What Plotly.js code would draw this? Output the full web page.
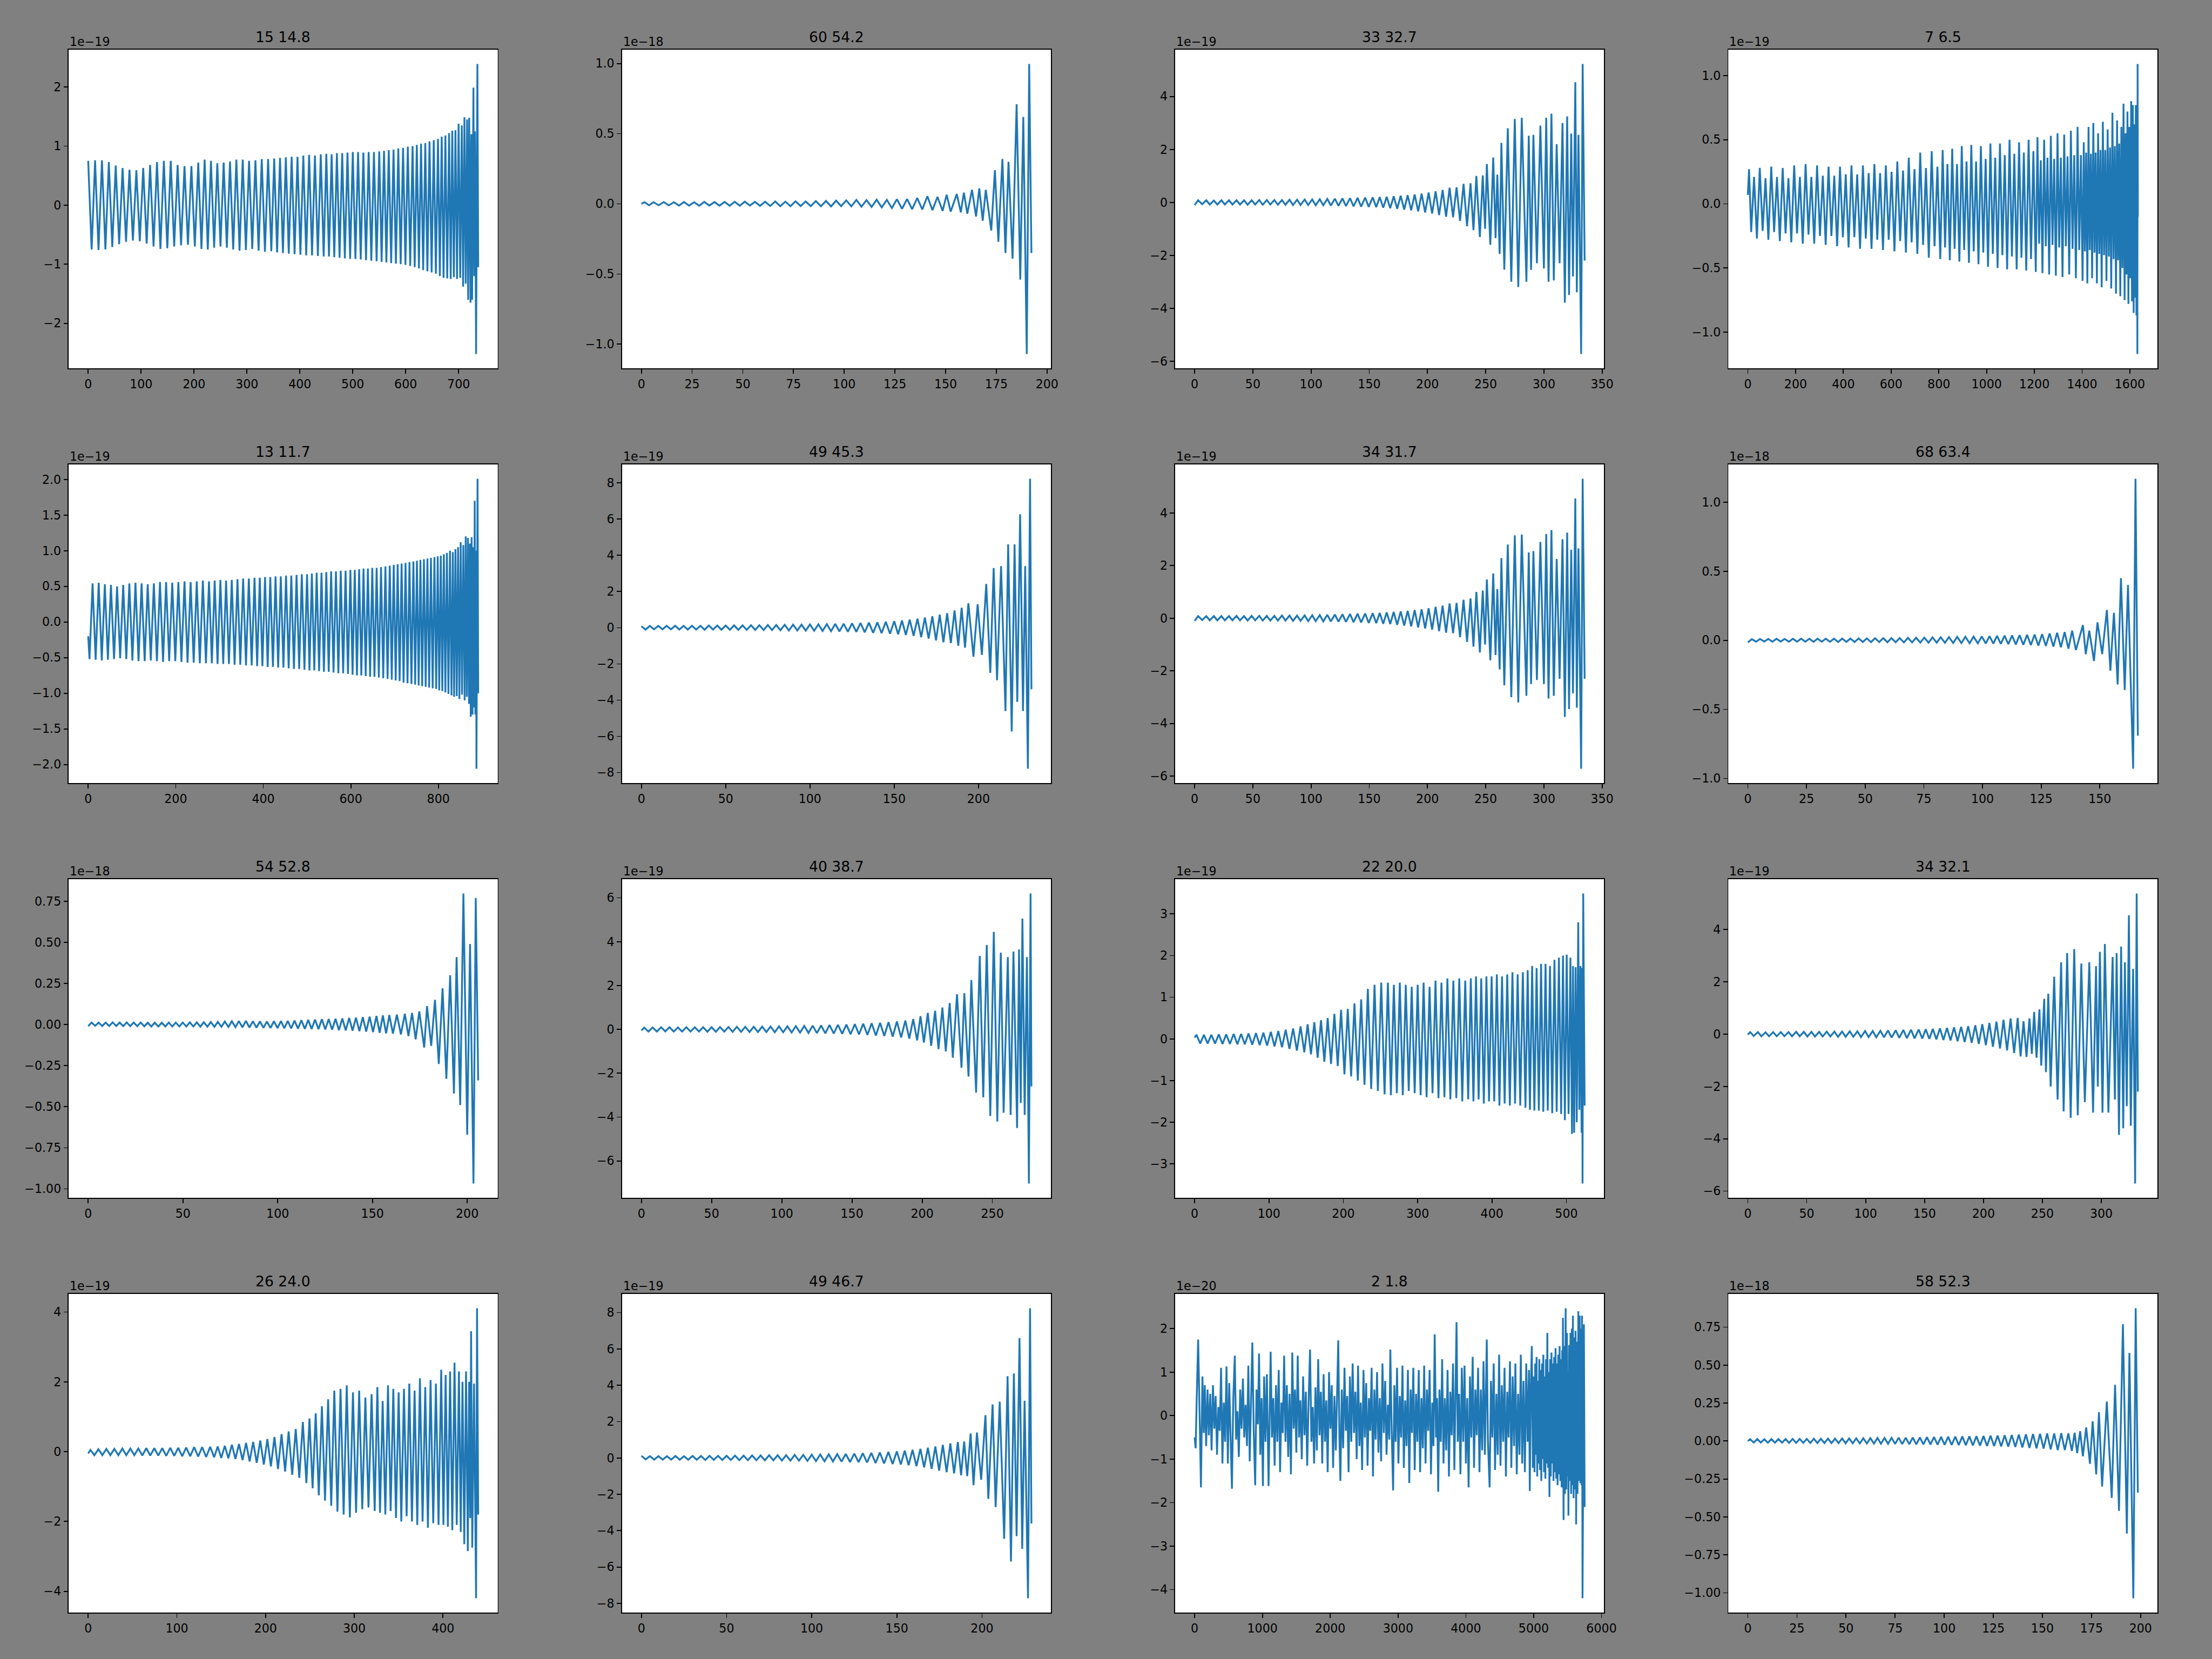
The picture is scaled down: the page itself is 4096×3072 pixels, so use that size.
<!DOCTYPE html>
<html><head><meta charset="utf-8">
<script src="https://cdn.plot.ly/plotly-3.0.1.min.js"></script>
<style>html,body{margin:0;padding:0;background:#808080;}#chart{width:4096px;height:3072px;}</style>
</head><body><div id="chart"></div>
<script>
// ---- chart data ----
const titles = ["15 14.8","60 54.2","33 32.7","7 6.5","13 11.7","49 45.3","34 31.7","68 63.4","54 52.8","40 38.7","22 20.0","34 32.1","26 24.0","49 46.7","2 1.8","58 52.3"];
const exponents = [-19,-18,-19,-19,-19,-19,-19,-18,-18,-19,-19,-19,-19,-19,-20,-18];
const yTickStep = [1,0.5,2,0.5,0.5,2,2,0.5,0.25,2,1,2,2,2,1,0.25];
const yTickFormat = ["d",".1f","d",".1f",".1f","d","d",".1f",".2f","d","d","d","d","d","d",".2f"];
const xTickStep = [100,25,50,200,200,50,50,25,50,50,100,50,100,50,1000,25];

// each series: pairs of (sample index, value in units of 10^exponent), read at the turning points of the trace
const p1 = [0,0.75,6.5,-0.75,13,0.76,19.5,-0.76,26,0.76,32.5,-0.75,39,0.73,45.5,-0.71,52,0.67,58.5,-0.66,65,0.63,71.5,-0.62,78,0.6,84.5,-0.6,91,0.59,97.5,-0.61,104,0.63,110.5,-0.65,117,0.68,123.5,-0.7,130,0.73,136.5,-0.74,143,0.75,149.5,-0.73,156,0.75,162.5,-0.7,169,0.68,175.5,-0.68,182,0.66,188.5,-0.67,195,0.66,201.5,-0.7,208,0.72,214,-0.74,220,0.77,226,-0.75,232,0.75,238,-0.72,244,0.71,250,-0.7,256,0.72,262,-0.72,268,0.74,274,-0.75,280,0.77,286,-0.77,292,0.77,298,-0.76,304,0.75,310,-0.74,316,0.76,322,-0.77,328,0.78,334,-0.79,340,0.78,346,-0.78,351.5,0.79,357,-0.8,362.5,0.8,368,-0.81,373.5,0.81,379,-0.82,384.5,0.82,390,-0.83,395.5,0.82,401,-0.84,406.5,0.84,412,-0.85,417.5,0.85,423,-0.85,428.5,0.84,434,-0.86,439.5,0.86,445,-0.87,450,0.87,455,-0.87,460,0.86,465,-0.88,470,0.88,475,-0.89,480,0.88,485,-0.9,490,0.89,495,-0.91,500,0.9,505,-0.91,510,0.9,515,-0.92,520,0.89,525,-0.93,530,0.9,535,-0.94,540,0.9,545,-0.95,550,0.91,554.5,-0.96,559,0.92,563.5,-0.97,568,0.93,572.5,-0.98,577,0.94,581.5,-0.99,586,0.96,590.5,-1.0,595,0.97,599.5,-1.01,604,0.99,608.5,-1.03,613,1.0,617,-1.05,621,1.02,625,-1.07,629,1.04,633,-1.1,637,1.05,641,-1.12,645,1.08,649,-1.14,653,1.1,657,-1.16,661,1.12,664.5,-1.2,668,1.16,671.5,-1.23,675,1.18,678.5,-1.24,682,1.22,685,-1.25,688,1.26,691,-1.22,694,1.27,697,-1.25,700,1.38,703,-1.23,706,1.35,708.5,-1.38,711,1.49,713.5,-1.33,716,1.45,718,-1.6,720,1.48,722.5,-1.65,724,1.2,725.5,-1.6,728,1.99,729.5,-1.2,731,1.25,733,-2.52,735.5,2.39,737,-1.05];
const p2 = [0,0.0,1.5,0.012,3.8,-0.01,6,0.012,8.5,-0.01,11,0.013,13.5,-0.011,16,0.012,18.5,-0.012,21,0.013,23.5,-0.012,26,0.012,28.5,-0.013,31,0.014,33.5,-0.012,36,0.013,38.5,-0.013,41,0.014,43.5,-0.013,46,0.015,48.5,-0.013,51,0.016,53.5,-0.012,56,0.015,58.5,-0.014,61,0.016,63.5,-0.015,66,0.017,68.5,-0.016,71,0.016,73.5,-0.016,76,0.018,78.5,-0.015,81,0.017,83.5,-0.016,86,0.02,88.5,-0.017,91,0.021,93.5,-0.018,96,0.023,98.5,-0.016,101,0.025,103.5,-0.018,106,0.028,108.5,-0.02,111,0.027,113.5,-0.022,116,0.03,118.5,-0.025,121,0.029,123.5,-0.03,126,0.033,128.5,-0.035,131,0.035,133.5,-0.038,136,0.042,138.5,-0.04,141,0.055,143.5,-0.045,146,0.05,148.5,-0.05,150.5,0.065,152.5,-0.055,155.5,0.07,157.5,-0.06,159,0.08,160.7,-0.07,163,0.1,165,-0.09,166.6,0.11,168.3,-0.12,169.8,0.1,172.5,-0.19,174.3,0.24,176,-0.27,178,0.32,179.5,-0.35,181,0.3,183,-0.39,185,0.71,186.8,-0.54,188.3,0.62,190,-1.07,191.2,0.997,192.3,-0.35];
const p3 = [0,-0.1,3,0.08,6.5,-0.07,10,0.08,13,-0.08,16.5,0.07,19.5,-0.08,23,0.08,26,-0.08,29.5,0.08,32.5,-0.08,36,0.08,39,-0.08,42.5,0.08,45.5,-0.09,49,0.08,52,-0.08,55.5,0.09,58.5,-0.09,62,0.09,65,-0.08,68.5,0.09,71.5,-0.09,75,0.09,78,-0.09,81.5,0.1,84.5,-0.1,88,0.1,91,-0.1,94.5,0.11,97.5,-0.1,101,0.11,104,-0.11,107.5,0.12,110.5,-0.11,114,0.13,117,-0.12,120.5,0.14,123.5,-0.13,127,0.15,130,-0.14,133.5,0.16,136.5,-0.15,140,0.17,143,-0.16,146.5,0.18,149.5,-0.17,153,0.19,156,-0.18,159,0.2,162,-0.2,165,0.21,168,-0.22,171,0.23,174,-0.24,177,0.25,180,-0.27,183,0.27,186,-0.3,189,0.3,192,-0.34,195,0.33,198,-0.38,201,0.37,204,-0.42,207,0.42,210,-0.48,213,0.47,216,-0.54,219,0.55,222,-0.56,225,0.57,228,-0.7,231,0.7,234,-0.9,237,0.72,239.5,-1.05,242,1.0,245,-1.31,247.5,1.02,249.5,-1.0,251,1.45,254,-1.6,256.5,1.7,258.5,-1.35,260,1.05,262,-1.95,263.5,2.25,266,-2.54,269,2.8,272,-3.0,275,3.15,278,-3.2,281,3.2,285,-3.0,287,2.52,289,-2.55,291,2.55,294,-2.3,297,2.9,300,-2.5,302,3.2,304,-3.0,306.5,3.35,308.5,-2.95,311,2.2,313.5,-2.3,316,3.0,318,-3.79,320,3.25,321.6,-3.5,323.5,2.6,325,-2.8,327,4.54,328.3,-3.4,329.7,2.55,332,-5.73,333.3,5.23,335,-2.2];
const p4 = [0,0.07,5,0.27,14,-0.22,26,0.21,38,-0.27,50,0.28,62,-0.21,74,0.2,86,-0.28,98,0.29,110,-0.22,122,0.21,134,-0.29,146,0.28,158,-0.23,170,0.2,182,-0.3,194,0.3,206,-0.23,218,0.21,230,-0.31,242,0.31,254,-0.24,266,0.21,278,-0.31,290,0.3,302,-0.25,314,0.22,326,-0.32,338,0.29,350,-0.25,362,0.22,374,-0.33,386,0.29,398,-0.26,410,0.23,422,-0.34,434,0.3,446,-0.26,458,0.23,470,-0.35,482,0.3,494,-0.27,506,0.24,518,-0.35,530,0.31,542,-0.28,554,0.24,566,-0.36,578,0.3,590,-0.28,602,0.25,614,-0.37,626,0.33,638,-0.29,650,0.26,662,-0.38,674,0.36,686,-0.3,698,0.27,710,-0.39,722,0.4,734,-0.32,746,0.28,758,-0.42,770,0.41,782,-0.33,794,0.29,806,-0.43,816,0.42,826,-0.34,836,0.31,846,-0.44,856,0.43,866,-0.35,876,0.31,886,-0.45,896,0.45,906,-0.36,916,0.33,926,-0.46,936,0.46,946,-0.37,956,0.33,966,-0.47,976,0.45,986,-0.38,996,0.35,1006,-0.49,1016,0.47,1026,-0.39,1036,0.36,1046,-0.5,1056,0.47,1066,-0.4,1076,0.38,1086,-0.51,1096,0.5,1106,-0.41,1116,0.39,1126,-0.51,1136,0.48,1146,-0.42,1156,0.4,1166,-0.52,1176,0.5,1186,-0.43,1196,0.41,1206,-0.53,1213,0.52,1220,-0.31,1227,0.34,1234,-0.54,1241,0.5,1248,-0.33,1255,0.36,1262,-0.55,1269,0.53,1276,-0.32,1283,0.35,1290,-0.56,1297,0.55,1304,-0.34,1311,0.36,1318,-0.57,1325,0.54,1332,-0.33,1339,0.37,1346,-0.55,1353,0.57,1360,-0.35,1367,0.38,1374,-0.58,1381,0.6,1388,-0.36,1395,0.38,1402,-0.6,1407,0.48,1412,-0.37,1417,0.4,1422,-0.62,1427,0.6,1432,-0.36,1437,0.39,1442,-0.58,1447,0.63,1452,-0.38,1457,0.4,1462,-0.62,1467,0.55,1472,-0.39,1477,0.42,1482,-0.65,1487,0.64,1492,-0.4,1497,0.42,1502,-0.6,1507,0.58,1512,-0.41,1517,0.44,1522,-0.66,1527,0.71,1532,-0.43,1537,0.45,1542,-0.7,1546.5,0.65,1551,-0.44,1555.5,0.47,1560,-0.72,1564.5,0.6,1569,-0.5,1573.5,0.78,1578,-0.75,1582,0.55,1586,-0.55,1590,0.72,1594,-0.78,1598,0.6,1602,-0.58,1605.5,0.8,1609,-0.76,1612.5,0.77,1616,-0.85,1619,0.62,1622,-0.73,1625,0.77,1627.5,-0.87,1629.5,0.7,1631.5,-1.17,1632.5,1.09,1633.5,-0.1];
const p5 = [0,-0.2,3,-0.52,10,0.54,17,-0.53,24,0.55,31,-0.54,38,0.53,45,-0.53,52,0.52,59,-0.52,66,0.5,73,-0.51,80,0.52,87,-0.52,94,0.54,101,-0.54,108,0.55,115,-0.55,122,0.54,129,-0.55,136,0.53,143,-0.54,150,0.54,157,-0.55,164,0.56,171,-0.56,178,0.56,185,-0.55,192,0.55,199,-0.55,206,0.56,213,-0.56,220,0.57,227,-0.57,234,0.56,241,-0.57,248,0.57,255,-0.58,262,0.58,269,-0.58,276,0.57,282.5,-0.58,289,0.58,295.5,-0.59,302,0.59,308.5,-0.59,315,0.58,321.5,-0.59,328,0.59,334.5,-0.6,341,0.6,347.5,-0.6,354,0.61,360.5,-0.61,367,0.61,373.5,-0.61,380,0.62,386,-0.62,392,0.62,398,-0.62,404,0.63,410,-0.63,416,0.63,422,-0.63,428,0.64,434,-0.64,440,0.64,446,-0.64,452,0.65,458,-0.65,464,0.65,470,-0.66,476,0.66,482,-0.66,488,0.67,494,-0.67,500,0.67,505.5,-0.68,511,0.68,516.5,-0.68,522,0.69,527.5,-0.69,533,0.69,538.5,-0.7,544,0.7,549.5,-0.7,555,0.71,560.5,-0.71,566,0.71,571.5,-0.72,577,0.72,582.5,-0.72,588,0.72,593.5,-0.73,599,0.73,604,-0.74,609,0.73,614,-0.75,619,0.74,624,-0.75,629,0.75,634,-0.76,639,0.75,644,-0.77,649,0.76,654,-0.77,659,0.76,664,-0.78,669,0.77,674,-0.79,679,0.78,684,-0.8,689,0.79,693.5,-0.81,698,0.8,702.5,-0.82,707,0.81,711.5,-0.83,716,0.82,720.5,-0.85,725,0.83,729.5,-0.86,734,0.84,738.5,-0.87,743,0.85,747,-0.88,751,0.86,755,-0.89,759,0.87,763,-0.9,767,0.88,771,-0.91,775,0.89,779,-0.92,783,0.9,787,-0.93,791,0.91,795,-0.94,798.5,0.92,802,-0.96,805.5,0.93,809,-0.97,812.5,0.95,816,-0.99,819.5,0.97,823,-1.01,826.5,1.0,830,-1.03,833,0.98,836,-1.05,839,1.02,842,-1.04,845,1.05,848,-1.08,851,1.12,854,-1.02,857,1.08,860,-1.1,862.5,1.2,865,-1.05,867.5,1.18,870,-1.15,872,1.1,874,-1.33,876,1.19,878,-1.3,880,1.05,881.5,-1.2,883,1.7,884.5,-1.3,886,1.0,887,-2.06,889.5,2.01,891,-1.0];
const p6 = [0,0.08,2.5,-0.1,5,0.1,7.5,-0.09,10,0.1,12.5,-0.09,15,0.1,17.5,-0.09,20,0.11,22.5,-0.1,25,0.1,27.5,-0.1,30,0.11,32.5,-0.1,35,0.11,37.5,-0.11,40,0.12,42.5,-0.1,45,0.12,47.5,-0.11,50,0.12,52.5,-0.11,55,0.13,57.5,-0.12,60,0.13,62.5,-0.12,65,0.14,67.5,-0.12,70,0.14,72.5,-0.13,75,0.15,77.5,-0.13,80,0.15,82.5,-0.14,85,0.16,87.5,-0.15,90,0.17,92.5,-0.15,95,0.17,97.5,-0.16,100,0.18,102.5,-0.17,105,0.19,107.5,-0.18,110,0.2,112.5,-0.19,115,0.21,117.5,-0.2,120,0.22,122.5,-0.22,125,0.24,127.5,-0.23,130,0.26,132.5,-0.25,135,0.28,137.5,-0.28,140,0.3,142.5,-0.3,145,0.33,147.5,-0.33,150,0.36,152.3,-0.36,154.6,0.4,156.9,-0.4,159.2,0.45,161.5,-0.45,163.8,0.5,166,-0.52,168.2,0.56,170.4,-0.6,172.6,0.63,174.8,-0.7,177,0.72,179.2,-0.8,181.4,0.8,183.6,-0.85,185.8,0.95,188,-1.0,190,1.1,192,-1.1,194,1.35,197,-1.6,199.5,1.3,202,-1.5,204.6,2.42,207,-2.49,209,3.3,211,-2.9,213.4,3.4,216,-4.6,217.6,4.6,219.7,-5.73,221.4,4.6,223,-4.1,224.7,6.27,226.4,-4.6,227.7,3.4,229.3,-7.79,230.6,8.23,231.4,-3.4];
const p7 = [0,-0.1,3,0.08,6.5,-0.07,10,0.08,13,-0.08,16.5,0.08,19.5,-0.08,23,0.08,26,-0.08,29.5,0.08,32.5,-0.08,36,0.09,39,-0.08,42.5,0.08,45.5,-0.09,49,0.09,52,-0.08,55.5,0.09,58.5,-0.09,62,0.09,65,-0.09,68.5,0.09,71.5,-0.09,75,0.1,78,-0.09,81.5,0.1,84.5,-0.1,88,0.1,91,-0.1,94.5,0.11,97.5,-0.11,101,0.11,104,-0.11,107.5,0.12,110.5,-0.12,114,0.13,117,-0.12,120.5,0.14,123.5,-0.13,127,0.15,130,-0.14,133.5,0.16,136.5,-0.15,140,0.17,143,-0.16,146.5,0.18,149.5,-0.18,153,0.19,156,-0.19,159,0.2,162,-0.21,165,0.22,168,-0.22,171,0.24,174,-0.25,177,0.26,180,-0.28,183,0.28,186,-0.31,189,0.31,192,-0.35,195,0.34,198,-0.39,201,0.38,204,-0.43,207,0.43,210,-0.49,213,0.48,216,-0.55,219,0.56,222,-0.57,225,0.58,228,-0.72,231,0.7,234,-0.9,237,0.75,239.5,-1.08,242,1.0,245,-1.3,247.5,1.05,249.5,-1.0,251,1.47,254,-1.6,256.5,1.7,258.5,-1.4,260,1.1,262,-1.95,263.5,2.28,266,-2.55,269,2.8,272,-3.0,275,3.15,278,-3.2,281,3.18,285,-2.95,287,2.5,289,-2.5,291,2.55,294,-2.35,297,2.9,300,-2.5,302,3.2,304,-3.05,306.5,3.35,308.5,-2.95,311,2.25,313.5,-2.3,316,3.0,318,-3.75,320,3.25,321.6,-3.45,323.5,2.6,325,-2.85,327,4.55,328.3,-3.4,329.7,2.65,332,-5.72,333.3,5.3,335,-2.3];
const p8 = [0,-0.015,1.7,0.008,3.5,-0.01,5.2,0.01,7,-0.009,8.7,0.01,10.5,-0.01,12.2,0.011,14,-0.009,15.7,0.01,17.5,-0.01,19.2,0.011,21,-0.01,22.7,0.012,24.5,-0.01,26.2,0.011,28,-0.011,29.7,0.012,31.5,-0.01,33.2,0.012,35,-0.011,36.7,0.012,38.5,-0.012,40.2,0.013,42,-0.011,43.7,0.013,45.5,-0.012,47.2,0.014,49,-0.012,50.7,0.014,52.5,-0.013,54.2,0.015,56,-0.013,57.7,0.016,59.5,-0.014,61.2,0.016,63,-0.014,64.7,0.017,66.5,-0.015,68.2,0.018,70,-0.015,71.7,0.019,73.5,-0.016,75.2,0.02,77,-0.017,78.7,0.021,80.5,-0.017,82.2,0.022,84,-0.018,85.7,0.023,87.5,-0.019,89.2,0.025,91,-0.02,92.7,0.026,94.5,-0.021,96.2,0.027,98,-0.022,99.7,0.028,101.4,-0.023,103,0.03,104.6,-0.024,106.2,0.032,107.8,-0.026,109.4,0.034,111,-0.028,112.6,0.035,114.2,-0.03,115.8,0.037,117.4,-0.032,119,0.04,120.6,-0.034,122.2,0.042,123.8,-0.038,125.4,0.045,127,-0.04,128.6,0.05,130.2,-0.045,131.8,0.055,133.4,-0.05,135,0.06,136.6,-0.06,138.2,0.07,139.8,-0.07,142.8,0.11,144,-0.1,145.5,0.07,147.5,-0.15,149,0.13,151,-0.1,153,0.22,154.5,-0.22,156,0.2,157.6,-0.32,159,0.45,160.6,-0.36,162,0.4,164.2,-0.93,165.2,1.17,166.2,-0.69];
const p9 = [0,-0.01,1.8,0.012,3.7,-0.008,5.5,0.012,7.4,-0.009,9.2,0.012,11.1,-0.009,12.9,0.013,14.8,-0.009,16.6,0.012,18.5,-0.01,20.3,0.013,22.2,-0.01,24,0.012,25.9,-0.01,27.7,0.012,29.6,-0.011,31.4,0.011,33.3,-0.012,35.1,0.011,37,-0.012,38.8,0.011,40.7,-0.012,42.5,0.012,44.4,-0.012,46.2,0.012,48.1,-0.012,49.9,0.012,51.8,-0.012,53.6,0.013,55.5,-0.012,57.3,0.013,59.2,-0.013,61,0.014,62.9,-0.013,64.7,0.015,66.6,-0.014,68.4,0.016,70.3,-0.014,72.1,0.018,74,-0.015,75.8,0.02,77.7,-0.016,79.5,0.021,81.4,-0.017,83.2,0.022,85.1,-0.018,86.9,0.02,88.8,-0.019,90.6,0.019,92.5,-0.02,94.3,0.018,96.2,-0.021,98,0.02,99.9,-0.022,101.7,0.021,103.5,-0.023,105.3,0.022,107.1,-0.024,108.9,0.024,110.7,-0.025,112.5,0.026,114.3,-0.026,116.1,0.028,117.9,-0.027,119.7,0.03,121.5,-0.028,123.3,0.032,125.1,-0.03,126.9,0.033,128.7,-0.032,130.5,0.035,132.3,-0.034,134.1,0.037,135.9,-0.036,137.7,0.04,139.5,-0.038,141.3,0.042,143.1,-0.04,144.9,0.045,146.7,-0.043,148.5,0.048,150.3,-0.046,152.1,0.052,153.8,-0.05,155.5,0.055,157.2,-0.054,158.9,0.058,160.8,-0.055,162.9,0.06,165,-0.06,167.1,0.065,169,-0.07,170.9,0.07,172.8,-0.09,174.7,0.08,177.3,-0.14,178.8,0.112,181,-0.13,183,0.15,185,-0.24,187,0.22,189,-0.33,191,0.3,193,-0.42,194.4,0.41,196.3,-0.49,198,0.797,200,-0.67,201.5,0.49,203.3,-0.967,204.5,0.77,205.8,-0.34];
const p10 = [0,-0.05,2,0.08,5,-0.1,8,0.09,11,-0.1,14,0.1,17,-0.09,20,0.1,23,-0.1,26,0.09,29,-0.1,32,0.1,35,-0.1,38,0.1,41,-0.1,44,0.1,47,-0.11,50,0.1,53,-0.11,56,0.11,59,-0.1,62,0.11,65,-0.11,68,0.12,71,-0.11,74,0.12,77,-0.12,80,0.12,83,-0.12,86,0.13,89,-0.12,92,0.13,95,-0.13,98,0.14,101,-0.13,104,0.14,107,-0.14,110,0.15,113,-0.15,116,0.16,119,-0.16,122,0.17,125,-0.17,128,0.18,131,-0.18,134,0.2,137,-0.19,140,0.21,143,-0.2,146,0.22,149,-0.22,152,0.24,155,-0.23,158,0.26,161,-0.25,164,0.28,167,-0.28,170,0.3,173,-0.3,176,0.33,179,-0.33,182,0.36,185,-0.37,188,0.4,190.8,-0.42,193.6,0.47,196.4,-0.5,198.8,0.6,201.2,-0.6,204,0.75,206.4,-0.75,209.2,0.85,211.6,-0.9,214.4,1.0,216.8,-1.0,219.6,1.2,221.8,-1.29,224.8,1.6,228,-1.75,230,1.65,233,-2.15,235,2.25,238.4,-2.88,241,3.35,243.5,-3.1,246,3.85,248.5,-3.95,251,4.45,253.5,-4.2,256,3.5,258,-3.8,261,3.3,263,-3.9,265,3.55,267.6,-4.5,269,3.65,270.2,-3.35,271.4,5.05,273,-3.9,274.6,3.3,276,-7.03,277.2,6.2,277.8,-2.6];
const p11 = [0,0.03,2.5,0.1,7.5,-0.11,12.5,0.1,17.5,-0.11,22.5,0.1,27.5,-0.11,32.5,0.11,37.5,-0.12,42.5,0.11,47.5,-0.12,52.5,0.12,57.5,-0.13,62.5,0.12,67.5,-0.13,72.5,0.13,77.5,-0.14,82.5,0.14,87.5,-0.15,92.5,0.15,97.5,-0.16,102.5,0.17,107.5,-0.18,112.5,0.19,117.5,-0.2,122.5,0.22,127.5,-0.24,132.5,0.25,137.5,-0.28,142.5,0.3,147.5,-0.32,152,0.35,156.5,-0.37,161,0.4,165.5,-0.45,170,0.45,174.5,-0.55,179,0.5,183.5,-0.6,188,0.6,192.5,-0.65,197,0.7,201.5,-0.85,206,0.72,210.5,-0.9,215,0.85,219.5,-1.0,224,0.95,228.5,-1.1,233,1.2,237.5,-1.2,242,1.3,246.5,-1.25,251,1.35,255.5,-1.33,260,1.35,264,-1.35,268,1.3,272,-1.3,276,1.35,280,-1.35,284,1.3,288,-1.25,292,1.25,296,-1.3,300,1.3,304,-1.35,308,1.35,312,-1.4,316,1.25,320,-1.3,324,1.4,328,-1.42,332,1.35,336,-1.4,340,1.45,344,-1.45,348,1.4,352,-1.42,356,1.45,360,-1.5,364,1.4,368,-1.45,371.5,1.45,375,-1.5,378.5,1.5,382,-1.45,385.5,1.45,389,-1.55,392.5,1.5,396,-1.5,399.5,1.5,403,-1.5,406.5,1.55,410,-1.6,413.5,1.5,417,-1.55,420.5,1.55,424,-1.6,427.5,1.6,431,-1.55,434.5,1.55,438,-1.6,441.5,1.6,445,-1.65,448,1.65,451,-1.7,454,1.75,457,-1.72,460,1.7,463,-1.72,466,1.8,469,-1.75,472,1.8,475,-1.72,478,1.75,481,-1.78,484,1.9,487,-1.75,490,1.95,493,-1.8,495.5,2.0,498,-1.95,500.5,2.02,503,-1.8,505.5,1.95,507.6,-2.28,509,1.75,510.5,-2.25,512.5,1.72,514,-2.0,516,2.8,517.5,-1.7,519,1.75,520.5,-2.25,521.2,1.7,521.8,-3.47,522.7,3.49,524.6,-1.6];
const p12 = [0,-0.02,2,0.08,5,-0.07,8.5,0.08,11.5,-0.08,15,0.07,18,-0.08,21.5,0.08,24.5,-0.08,28,0.08,31,-0.08,34.5,0.08,37.5,-0.08,41,0.09,44,-0.08,47.5,0.09,50.5,-0.09,54,0.09,57,-0.09,60.5,0.09,63.5,-0.09,67,0.1,70,-0.09,73.5,0.1,76.5,-0.1,80,0.1,83,-0.1,86.5,0.11,89.5,-0.1,93,0.11,96,-0.11,99.5,0.12,102.5,-0.11,106,0.12,109,-0.12,112.5,0.13,115.5,-0.12,119,0.14,122,-0.13,125.5,0.15,128.5,-0.14,132,0.16,135,-0.15,138.5,0.17,141.5,-0.16,145,0.18,148,-0.17,151,0.19,154,-0.18,157,0.2,160,-0.2,163,0.22,166,-0.22,169,0.24,172,-0.24,175,0.26,178,-0.27,181,0.28,184,-0.3,187,0.31,190,-0.33,193,0.34,196,-0.37,199,0.38,202,-0.42,205,0.43,208,-0.48,211,0.48,214,-0.55,217,0.55,220,-0.62,223,0.6,226,-0.72,229,0.62,231.5,-0.85,234,0.5,236.5,-0.87,239,0.6,241,-0.75,243,0.85,245,-0.9,247.5,0.95,249,-1.2,251.5,1.35,253,-1.45,255,1.55,257,-2.0,260,2.2,262.9,-2.5,265.9,2.75,268,-2.95,271,3.1,274,-3.2,277,3.25,280,-3.1,283,2.7,286,-2.6,289.8,2.75,293,-3.0,295.5,2.6,297,-2.0,298.8,3.15,301,-3.0,303,3.45,306,-3.0,309.6,2.95,311.5,-2.5,313,3.1,315,-3.85,316.8,3.35,318.6,-3.6,320,2.75,321.6,-2.75,323.4,4.55,325,-3.5,327,2.5,328.7,-5.71,330,5.38,331,-2.2];
const p13 = [0,-0.05,2.5,0.05,7,-0.1,11.5,0.07,16,-0.1,20.5,0.08,25,-0.1,29.5,0.08,34,-0.1,38.5,0.09,43,-0.1,47.5,0.09,52,-0.1,56.5,0.09,61,-0.11,65.5,0.1,70,-0.11,74.5,0.1,79,-0.11,83.5,0.1,88,-0.12,92.5,0.11,97,-0.12,101.5,0.11,106,-0.13,110.5,0.12,115,-0.13,119.5,0.13,124,-0.14,128.5,0.13,133,-0.15,137.5,0.14,142,-0.16,146,0.15,150,-0.18,154,0.17,158,-0.19,162,0.2,166,-0.21,170,0.22,174,-0.24,178,0.25,182,-0.28,186,0.28,190,-0.32,194,0.32,198,-0.37,202,0.36,206,-0.42,210,0.42,214,-0.5,218,0.5,222,-0.57,226,0.58,230,-0.66,234,0.65,238,-0.75,242,0.85,246,-0.9,249.5,0.95,253,-1.05,256.5,1.1,260,-1.25,263.5,1.3,267,-1.4,270.5,1.5,274,-1.55,277.5,1.75,281,-1.72,284.5,1.8,288,-1.8,291.5,1.9,295,-1.88,298.5,1.7,302,-1.75,305.5,1.75,309,-1.65,312.5,1.55,316,-1.6,319.5,1.65,323,-1.7,326,1.85,329,-1.75,332,1.45,335,-1.8,338,1.9,341,-1.7,344,1.8,347,-1.9,350,1.7,353,-2.0,356,1.8,359,-1.85,362,1.95,365,-2.0,368,1.75,371,-2.1,374,2.1,377,-2.0,380,1.85,383,-2.18,386,2.05,389,-2.05,392,1.95,395,-2.1,398,2.35,400.5,-2.1,403,2.2,405.5,-2.15,408,2.3,410.5,-2.25,413,2.55,415.5,-2.1,418,2.3,420,-2.3,422,2.0,424,-2.65,426,2.3,428,-2.85,429.5,2.0,430.7,-1.9,431.7,3.45,433,-2.75,435,1.95,437.3,-4.2,438.4,4.11,439.7,-1.8];
const p14 = [0,0.12,2.5,-0.08,5,0.1,7.5,-0.09,10,0.1,12.5,-0.09,15,0.1,17.5,-0.09,20,0.11,22.5,-0.1,25,0.1,27.5,-0.1,30,0.11,32.5,-0.1,35,0.11,37.5,-0.11,40,0.12,42.5,-0.1,45,0.12,47.5,-0.11,50,0.12,52.5,-0.11,55,0.13,57.5,-0.12,60,0.13,62.5,-0.12,65,0.14,67.5,-0.12,70,0.14,72.5,-0.13,75,0.15,77.5,-0.13,80,0.15,82.5,-0.14,85,0.16,87.5,-0.15,90,0.17,92.5,-0.15,95,0.17,97.5,-0.16,100,0.18,102.5,-0.17,105,0.19,107.5,-0.18,110,0.2,112.5,-0.19,115,0.21,117.5,-0.2,120,0.22,122.5,-0.22,125,0.24,127.5,-0.23,130,0.26,132.5,-0.25,135,0.28,137.5,-0.28,140,0.3,142.5,-0.3,145,0.33,147.5,-0.33,150,0.36,152.3,-0.36,154.6,0.4,156.9,-0.4,159.2,0.45,161.5,-0.45,163.8,0.5,166,-0.52,168.2,0.56,170.4,-0.6,172.6,0.63,174.8,-0.7,177,0.72,179.2,-0.78,181.4,0.8,183.6,-0.85,185.8,0.88,187.7,-0.95,189.5,0.9,191.3,-1.0,193.3,1.35,195,-1.5,197,1.4,199.5,-1.2,202,2.35,203.7,-2.25,206.2,2.95,208,-2.7,210.4,3.1,213,-4.45,215,4.5,217,-5.7,218.7,4.65,220.3,-4.3,222,6.6,223.6,-5.0,225,3.15,227,-7.72,228.2,8.24,229,-3.6];
const p15 = [0,-0.5,15,-0.75,30,0.35,52,1.75,75,-0.1,93,-1.65,115,0.9,135,-0.4,150,0.7,170,-0.7,190,0.6,210,-0.45,230,0.5,250,-0.8,270,0.7,290,-0.3,310,0.45,330,-0.9,350,0.2,370,-0.35,390,1.1,410,-1.1,430,0.3,450,-0.6,470,1.13,490,-1.1,510,0.75,530,-0.5,550,-1.68,570,0.4,592,1.38,612,-0.55,632,0.1,652,-0.95,672,0.6,692,-0.3,712,0.85,732,-0.5,752,0.25,772,-0.7,792,1.15,812,-1.05,832,0.2,851,1.68,872,-0.4,893,-1.6,912,0.6,932,-0.2,950,1.43,968,-0.9,988,0.4,1007,-1.62,1025,0.9,1045,-0.6,1065,0.95,1090,-1.62,1121,1.47,1140,-0.5,1160,0.4,1180,-1.15,1200,0.7,1220,-0.6,1240,1.05,1260,-1.3,1280,0.3,1300,-0.4,1320,1.38,1340,-0.6,1360,0.7,1380,-0.95,1400,0.5,1420,-1.35,1440,1.45,1460,-0.3,1480,0.6,1500,-0.85,1520,1.38,1540,-0.5,1560,0.35,1580,-1.0,1600,0.9,1620,-0.45,1640,0.55,1660,-1.15,1680,0.3,1702,1.52,1722,-0.6,1742,0.2,1762,-1.1,1782,0.65,1802,-0.8,1822,1.3,1842,-0.45,1862,0.55,1882,-1.1,1902,0.95,1922,-0.6,1942,0.35,1962,-1.3,1982,1.0,2002,-0.3,2022,0.7,2042,-1.2,2062,0.45,2082,-0.8,2100,0.3,2118,1.73,2135,-0.5,2149,-1.5,2170,0.6,2190,-0.75,2210,1.1,2230,-0.35,2250,0.45,2270,-1.3,2290,0.9,2310,-0.6,2330,1.2,2350,-0.4,2370,0.55,2390,-1.0,2410,1.15,2430,-0.7,2450,0.3,2470,-1.25,2490,1.05,2510,-0.5,2530,0.75,2550,-1.15,2570,0.4,2590,-0.35,2610,1.1,2630,-1.4,2650,0.6,2670,-0.55,2690,1.0,2710,-0.85,2730,0.4,2750,-1.05,2770,1.2,2790,-0.4,2810,0.8,2830,-0.9,2850,0.25,2870,-0.55,2886,1.52,2905,-0.3,2927,-1.72,2945,0.7,2965,-0.6,2985,1.1,3005,-1.1,3025,0.45,3045,-0.5,3065,1.15,3085,-1.2,3105,0.35,3125,-0.7,3145,1.05,3165,-1.55,3185,0.6,3205,-0.4,3225,1.1,3245,-1.25,3265,0.5,3285,-0.6,3305,1.05,3325,-1.3,3345,0.4,3365,-0.75,3385,1.15,3405,-1.1,3425,0.6,3445,-0.35,3465,1.05,3485,-1.35,3505,0.3,3522,-0.7,3540,1.87,3560,-0.5,3575,0.4,3592,-1.75,3610,0.6,3630,-0.6,3650,1.3,3670,-1.1,3690,0.4,3710,-0.8,3730,1.05,3750,-1.4,3770,0.55,3790,-0.45,3810,1.2,3830,-1.25,3847,0.3,3862,2.15,3880,-0.6,3900,0.5,3920,-1.35,3940,1.1,3960,-0.6,3980,1.15,4000,-1.1,4020,0.4,4040,-1.65,4060,0.9,4080,-0.5,4100,1.35,4120,-1.2,4140,0.6,4160,-0.45,4180,1.1,4200,-1.3,4220,0.6,4240,-0.8,4260,1.25,4280,-0.9,4295,0.5,4308,1.75,4325,-0.6,4350,-1.65,4370,0.8,4390,-0.5,4410,1.2,4430,-1.25,4450,0.5,4470,-0.9,4490,1.4,4510,-1.15,4530,0.7,4550,-0.6,4570,1.1,4590,-1.4,4610,0.55,4630,-0.5,4650,1.25,4670,-1.2,4690,0.9,4710,-0.7,4730,1.2,4750,-1.35,4770,0.5,4790,-0.9,4810,1.4,4830,-1.1,4850,0.8,4870,-1.3,4890,1.2,4910,-0.6,4930,1.05,4942,-1.73,4958,0.7,4972,1.6,4988,-1.2,5002,0.9,5012,-1.3,5022,1.2,5032,-0.9,5042,1.35,5052,-1.4,5062,0.8,5072,-1.1,5082,1.3,5092,-1.25,5102,1.05,5112,-1.5,5122,1.2,5132,-1.0,5142,1.4,5152,-1.3,5162,0.9,5172,-1.45,5182,1.3,5192,-1.1,5201,1.9,5212,-1.2,5222,1.0,5232,-1.87,5242,1.3,5252,-1.4,5262,1.45,5272,-1.1,5282,1.2,5292,-1.5,5302,1.35,5312,-1.3,5322,1.55,5332,-1.45,5342,1.2,5352,-1.6,5362,1.4,5372,-1.35,5382,1.6,5392,-1.5,5402,1.3,5412,-1.65,5420,1.5,5426,-1.2,5431,2.25,5440,-2.4,5450,1.6,5460,-1.8,5471,2.47,5480,-1.7,5490,1.9,5501,-1.4,5506,1.0,5512,-2.3,5522,1.62,5532,-1.5,5542,1.9,5552,-1.8,5562,2.0,5570,-1.6,5578,2.3,5588,-1.9,5598,1.8,5608,-1.7,5617,1.95,5626,-2.5,5636,1.7,5646,-1.8,5658,2.4,5668,-1.5,5678,2.3,5688,-1.55,5698,2.0,5706,-1.6,5712,2.3,5720,-4.2,5740,2.1,5751,-2.1];
const p16 = [0,0.0,1.2,0.012,3,-0.01,4.8,0.013,6.6,-0.01,8.4,0.012,10.2,-0.011,12,0.013,13.8,-0.011,15.6,0.013,17.4,-0.011,19.2,0.013,21,-0.012,22.8,0.014,24.6,-0.012,26.4,0.014,28.2,-0.012,30,0.014,31.8,-0.013,33.6,0.015,35.4,-0.013,37.2,0.015,39,-0.013,40.8,0.016,42.6,-0.014,44.4,0.016,46.2,-0.014,48,0.017,49.8,-0.015,51.6,0.017,53.4,-0.015,55.2,0.018,57,-0.016,58.8,0.018,60.6,-0.016,62.4,0.019,64.2,-0.017,66,0.02,67.8,-0.018,69.6,0.02,71.4,-0.018,73.2,0.021,75,-0.019,76.8,0.022,78.6,-0.02,80.4,0.022,82.2,-0.021,84,0.023,85.8,-0.022,87.6,0.024,89.4,-0.022,91.2,0.025,93,-0.023,94.8,0.026,96.6,-0.024,98.4,0.027,100.2,-0.025,102,0.028,103.8,-0.026,105.6,0.029,107.4,-0.027,109.2,0.03,111,-0.028,112.8,0.031,114.6,-0.029,116.4,0.032,118.2,-0.03,120,0.033,121.8,-0.032,123.6,0.035,125.4,-0.033,127.2,0.036,129,-0.035,130.8,0.038,132.6,-0.037,134.4,0.04,136.2,-0.039,138,0.042,139.8,-0.042,141.6,0.044,143.4,-0.045,145.2,0.046,147,-0.048,148.8,0.048,150.6,-0.05,152.4,0.05,154.2,-0.055,156,0.05,157.8,-0.06,159.6,0.052,161.4,-0.06,163.2,0.05,165,-0.065,166.4,0.055,167.7,-0.08,169.2,0.065,170.6,-0.1,172.3,0.09,174.2,-0.15,175.6,0.13,177.4,-0.22,178.8,0.19,180.4,-0.3,182.8,0.26,185.3,-0.375,187,0.37,189,-0.46,191,0.77,193,-0.61,194.3,0.58,196.3,-1.036,197.5,0.875,198.6,-0.34];
const seriesList = [p1,p2,p3,p4,p5,p6,p7,p8,p9,p10,p11,p12,p13,p14,p15,p16];

// ---- layout geometry (reference is 5120x3840, drawn at 0.8) ----
const REF_W = 5120, REF_H = 3840, SCALE = 0.8;
const AX_LEFT0 = 159, AX_PITCH_X = 1280.5, AX_W = 993;
const AX_TOP0 = 114.5, AX_PITCH_Y = 960, AX_H = 738.5;
const FONT = 'DejaVu Sans';
const TICK_SIZE = 27.7 * SCALE, TITLE_SIZE = 33.3 * SCALE;

const traces = [];
const layout = {
  width: 4096, height: 3072,
  margin: {l: 0, r: 0, t: 0, b: 0, pad: 0},
  paper_bgcolor: '#808080', plot_bgcolor: '#ffffff',
  showlegend: false, annotations: [],
  font: {family: FONT, color: '#000000'}
};

seriesList.forEach((s, i) => {
  const n = i + 1;
  const col = i % 4, row = Math.floor(i / 4);
  const xs = [], ys = [];
  for (let k = 0; k + 1 < s.length; k += 2) { xs.push(s[k]); ys.push(s[k + 1]); }
  const xmin = Math.min(...xs), xmax = Math.max(...xs);
  const ymin = Math.min(...ys), ymax = Math.max(...ys);
  const xm = 0.05 * (xmax - xmin), ym = 0.05 * (ymax - ymin);
  const left = AX_LEFT0 + col * AX_PITCH_X;
  const top = AX_TOP0 + row * AX_PITCH_Y;
  const xd = [left / REF_W, (left + AX_W) / REF_W];
  const yd = [1 - (top + AX_H) / REF_H, 1 - top / REF_H];
  const sfx = n === 1 ? '' : String(n);
  traces.push({
    x: xs, y: ys, type: 'scatter', mode: 'lines',
    line: {color: '#1f77b4', width: 4.17 * SCALE},
    xaxis: 'x' + sfx, yaxis: 'y' + sfx, hoverinfo: 'skip'
  });
  const common = {
    showgrid: false, zeroline: false, showline: true, mirror: true,
    linecolor: '#000000', linewidth: 2.2 * SCALE,
    ticks: 'outside', ticklen: 9.7 * SCALE, tickwidth: 2.2 * SCALE, tickcolor: '#000000',
    tickfont: {family: FONT, size: TICK_SIZE, color: '#000000'},
    tickmode: 'linear', tick0: 0, ticklabelstandoff: 0, fixedrange: true
  };
  layout['xaxis' + sfx] = Object.assign({}, common, {
    domain: xd, anchor: 'y' + sfx, range: [xmin - xm, xmax + xm],
    dtick: xTickStep[i], tickformat: 'd'
  });
  layout['yaxis' + sfx] = Object.assign({}, common, {
    domain: yd, anchor: 'x' + sfx, range: [ymin - ym, ymax + ym],
    dtick: yTickStep[i], tickformat: yTickFormat[i]
  });
  layout.annotations.push({
    text: titles[i], xref: 'paper', yref: 'paper',
    x: (xd[0] + xd[1]) / 2, y: yd[1], xanchor: 'center', yanchor: 'bottom',
    yshift: 5.3, showarrow: false,
    font: {family: FONT, size: TITLE_SIZE, color: '#000000'}
  });
  layout.annotations.push({
    text: '1e' + String(exponents[i]).replace('-', '\u2212'), xref: 'paper', yref: 'paper',
    x: xd[0], y: yd[1], xanchor: 'left', yanchor: 'bottom',
    yshift: 0, showarrow: false,
    font: {family: FONT, size: TICK_SIZE, color: '#000000'}
  });
});

Plotly.newPlot('chart', traces, layout, {staticPlot: true, displayModeBar: false});
</script>
</body></html>
